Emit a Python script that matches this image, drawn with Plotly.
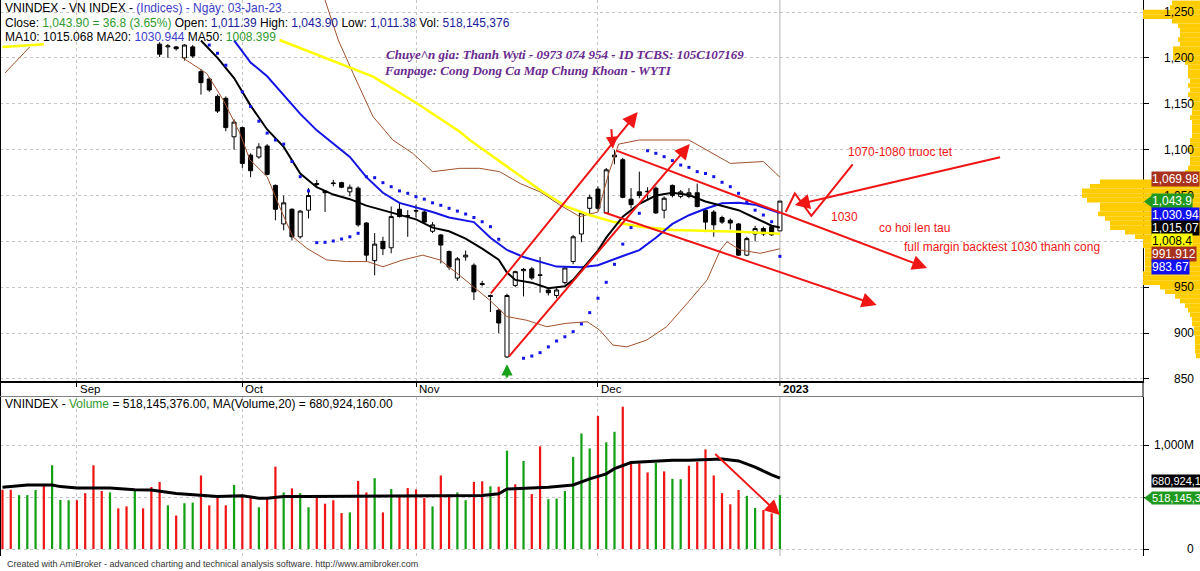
import plotly.graph_objects as go

W, H = 1200, 571
def X(px): return px / W
def Y(py): return 1 - py / H

# ---------------- data (bar index 0 = 2022-09-05, 85 = 2023-01-03) ----------------
month_ticks = [0, 20, 41, 63, 85]
month_labels = ["Sep", "Oct", "Nov", "Dec", "<b>2023</b>"]

bar_idx = list(range(10, 86))
opens = [1215, 1212, 1212, 1200, 1212, 1185, 1177, 1158, 1156, 1114,
         1124, 1094, 1092, 1104, 1061, 1019, 1035, 1005, 1034, 1062,
         1055, 1063, 1064, 1054, 1058, 1020, 979, 1000, 993, 1035,
         1028, 1033, 1032, 1011, 1007, 989, 960, 983, 974, 954,
         941, 925, 874, 952, 968, 970, 963.5, 947, 941, 955,
         978, 1008, 1036, 1057, 1031, 1092, 1089, 1046, 1054, 1054,
         1058, 1034, 1061, 1049, 1049, 1053, 1034, 1032, 1026, 1023,
         1019, 985, 1008, 1014, 1016, 1011.39]
highs = [1217, 1215, 1213, 1215, 1214, 1188, 1179, 1160, 1158, 1133,
         1125, 1096, 1107, 1106, 1062, 1050, 1036, 1034, 1058, 1067,
         1056, 1067, 1065, 1062, 1060, 1021, 1009, 1005, 1038, 1042,
         1034, 1040, 1034, 1021, 1008, 990, 983, 990, 976, 957,
         942, 926, 943, 968, 971, 972, 983, 949, 949, 973,
         1007, 1033, 1051, 1060, 1080, 1099.5, 1091, 1058, 1076, 1059,
         1060, 1049, 1062, 1056, 1058, 1063, 1036, 1034, 1028, 1025,
         1020, 1005, 1017, 1016, 1017, 1043.90]
lows = [1201, 1200, 1208, 1197, 1200, 1160, 1163, 1140, 1120, 1100,
        1080, 1070, 1090, 1072, 1023, 1012, 1001, 1003, 1025, 1058,
        1032, 1060, 1058, 1049, 1016, 978, 963, 985, 987, 1026,
        1005, 1026, 1019, 1009, 976, 969, 957, 979, 936, 951,
        923, 900, 873, 950, 940, 958, 944, 941, 938, 953,
        975, 999, 1028, 1034, 1030, 1084, 1047, 1036, 1047, 1046,
        1030, 1025, 1048, 1047, 1047, 1037, 1010, 1005, 1019, 1013,
        984, 984, 1000, 1006, 1006, 1011.38]
closes = [1204, 1213, 1210, 1214, 1202, 1173, 1165, 1142, 1124, 1130,
          1085, 1077, 1103, 1073, 1035, 1042, 1005, 1033, 1050, 1063,
          1053, 1063.5, 1059, 1059, 1018, 985, 997, 992, 1027, 1027,
          1027.5, 1033.5, 1021, 1018, 996, 972, 981, 985, 945, 953,
          940, 911, 941, 967, 969.5, 960, 963, 944, 947, 971,
          1005, 1031, 1048, 1036, 1078, 1094, 1048, 1040, 1050, 1054.5,
          1031, 1047, 1050, 1054, 1053, 1038, 1021, 1018, 1021, 1020,
          985, 1003, 1014, 1008, 1007.09, 1043.90]

# moving averages / bands (bar index, value)
ma10_i = [15, 17, 19, 21, 23, 25, 27, 29, 31, 33, 35, 37, 39, 41, 43, 45, 47, 49, 51, 52,
          53, 55, 57, 59, 60, 61, 63, 64, 66, 68, 70, 72, 74, 76, 78, 80, 82, 84, 85]
ma10_v = [1219, 1200, 1178, 1148, 1122, 1103, 1074, 1059, 1051, 1046, 1039, 1034, 1029, 1024,
          1015, 1011, 1003, 992, 980, 966, 958, 955, 949, 951, 958, 969, 990, 1004, 1027,
          1041, 1050, 1053, 1050.5, 1043.5, 1039, 1034, 1025.5, 1017, 1015.07]
ma20_i = [19, 21, 23, 25, 27, 29, 31, 33, 35, 37, 39, 41, 43, 45, 48, 50, 52, 54, 56, 58,
          61, 63, 66, 68, 70, 72, 74, 76, 78, 80, 82, 84, 85]
ma20_v = [1219, 1195, 1180, 1160, 1139, 1121, 1107, 1092, 1070, 1053, 1042, 1037, 1032, 1026,
          1021, 1004, 990.6, 983, 978, 972.5, 971.7, 974, 984, 990.5, 1004, 1019, 1028.5,
          1035.5, 1041.5, 1042, 1040, 1034.5, 1030.94]
ma50_i = [-9, -4, None, 24.5, 31.8, 35.8, 41.1, 46.3, 47.5, 56, 59.2, 62, 64.8, 68.1, 72.1,
          76.2, 80.2, 85]
ma50_v = [1212, 1215, None, 1219.5, 1194, 1179.5, 1150.5, 1119.5, 1110.5, 1056, 1037.8,
          1028.7, 1021.4, 1016, 1012.4, 1011.6, 1010.5, 1008.4]
bbu_i = [30, 31.6, 33.4, 35.8, 38.2, 40.6, 43, 46.3, 48.7, 51.1, 53.6, 56, 58.4, 60.8, 63,
         64.3, 65.5, 68, 74, 79, 83, 85]
bbu_v = [1263, 1219.5, 1183, 1136, 1110.5, 1096, 1076, 1079.6, 1079.6, 1076, 1063, 1054,
         1039.6, 1027, 1032, 1074, 1106, 1110.5, 1110.5, 1085, 1087, 1069.98]
bbl_i = [-8.7, -5.7, None, 12.8, 15.7, 17.7, 19.7, 20.9, 23, 24.5, 26.1, 27.8, 30.2, 32.6,
         35.1, 37, 39.4, 41.8, 43.9, 46, 49.9, 52, 54.4, 56.8, 59.2, 61.7, 63.2, 64.8, 66.5,
         68.9, 71.3, 73.8, 76.2, 77.8, 78.6, 80.2, 82.6, 85]
bbl_v = [1183.5, 1212, None, 1200, 1183, 1154, 1118, 1089, 1070.5, 1037.8, 1005, 992.4,
         979.7, 978, 978, 972.4, 979.7, 985, 979.7, 965, 936, 918, 914, 907, 910.7, 912.4,
         903.4, 887, 885, 892.5, 907, 932.6, 958, 990.6, 999.6, 990.6, 987, 991.91]
sar_i = [16, 17, 18, 20, 21, 22, 23, 24, 25, 26, 27, 28,
         29, 30, 31, 32, 33, 34,
         35, 36, 37, 38, 39, 40, 41, 42, 43, 44, 45, 46, 47, 48, 49, 50, 51,
         54, 55, 56, 57, 58, 59, 60, 61, 62, 63, 64, 65, 66, 67, 68,
         69, 70, 71, 72, 73, 74, 75, 76, 77, 78, 79, 80, 81, 82, 83, 84, 85]
sar_v = [1214, 1205, 1192, 1163, 1147, 1131, 1118, 1110.5, 1106, 1087, 1070.5, 1055,
         998.6, 999, 1000.4, 1002.6, 1005, 1008.8,
         1070.5, 1069.4, 1064, 1059.6, 1055, 1052.4, 1048.7, 1046, 1042, 1039.3, 1036, 1033,
         1029.8, 1026, 1021.4, 1016, 1002.3,
         872.6, 875, 878.7, 885, 891.4, 896, 901.6, 910, 922.3, 938, 955.4, 975, 997, 1015,
         1030.6,
         1098.8, 1096, 1092.3, 1088, 1083.2, 1080.7, 1076, 1074, 1070.5, 1064.4, 1059.6,
         1052.4, 1043, 1034, 1028.7, 1021.4, 983.67]

# volume (millions), bar index -9 .. 85
vol_idx = list(range(-9, 86))
vol_m = [570, 570, 518, 518, 567, 616, 805, 472, 469, 469,
         537, 805, 557, 544, 391, 410, 577, 391, 596, 645,
         420, 322, 440, 446, 707, 420, 495, 420, 616, 511,
         511, 401, 495, 792, 544, 583, 537, 401, 502, 436,
         469, 345, 352, 655, 544, 681, 352, 577, 518, 586,
         573, 489, 410, 707, 521, 544, 469, 645, 651, 603,
         599, 945, 622, 847, 528, 987, 479, 485, 557, 886,
         1111, 967, 1280, 1026, 1127, 1368, 847, 824, 736, 827,
         746, 674, 671, 801, 837, 958, 707, 537, 430, 567,
         511, 394, 375, 342, 518.145]
vol_dir = ["R", "R", "G", "G", "G", "R", "G", "G", "G", "R",
           "R", "R", "R", "G", "R", "R", "G", "R", "R", "R",
           "G", "R", "G", "G", "R", "R", "R", "R", "G", "R",
           "R", "G", "R", "R", "G", "R", "G", "G", "R", "R",
           "R", "R", "G", "R", "R", "G", "R", "G", "R", "R",
           "R", "R", "G", "R", "R", "G", "G", "R", "R", "G",
           "R", "G", "R", "G", "R", "R", "G", "G", "G", "G",
           "G", "G", "R", "G", "G", "R", "R", "R", "R", "G",
           "R", "G", "G", "R", "R", "R", "R", "R", "R", "R",
           "G", "G", "R", "R", "G"]
vma_i = [-9, -6, -3, -2, 0, 4, 7, 9, 12, 15, 17, 20, 22, 23, 25, 28, 31, 37, 43, 49, 51, 52,
         54, 57, 60, 62, 64, 65, 67, 70, 72, 74, 76, 78, 80, 82, 84, 85]
vma_m = [593, 616, 616, 600, 586, 586, 570, 567, 534, 518, 505, 511, 489, 489, 505, 505, 505,
         511, 511, 515, 531, 577, 583, 593, 616, 674, 723, 772, 831, 844, 853, 853, 863, 866,
         847, 788, 713, 680.924]

# volume-at-price profile (price bin centre, bar length in screen px from the right edge)
prof_price = [1260, 1255, 1250, 1245, 1240, 1235, 1230, 1225, 1220, 1215, 1210, 1205, 1200,
              1195, 1190, 1185, 1180, 1175, 1170, 1165, 1160, 1155, 1150, 1145, 1140, 1135,
              1130, 1125, 1120, 1115, 1110, 1105, 1100, 1095, 1090, 1085, 1080, 1075, 1070,
              1065, 1060, 1055, 1050, 1045, 1040, 1035, 1030, 1025, 1020, 1015, 1010, 1005,
              1000, 995, 990, 985, 980, 975, 970, 965, 960, 955, 950, 945, 940, 935, 930, 925,
              920, 915, 910, 905, 900, 895, 890, 885, 880, 875]
prof_len = [28, 30, 57, 57, 28, 22, 20, 20, 22, 20, 27, 27, 27,
            15, 12, 12, 12, 10, 12, 10, 12, 10, 8, 8, 8, 10,
            8, 8, 8, 8, 10, 10, 12, 10, 10, 10, 12, 15, 20,
            100, 110, 118, 118, 113, 100, 100, 102, 95, 90, 90, 75, 65,
            57, 57, 55, 55, 55, 55, 55, 57, 57, 57, 40, 35, 25, 20, 15, 12,
            10, 8, 8, 6, 6, 5, 5, 5, 5, 4]

price_ticks = [850, 900, 950, 1000, 1050, 1100, 1150, 1200, 1250]
price_tick_text = ["850", "900", "950", "", "1,050", "1,100", "1,150", "1,200", "1,250"]

# ---------------- figure ----------------
RED = "#f01515"
fig = go.Figure()

fig.add_trace(go.Bar(x=prof_len, y=prof_price, orientation="h", xaxis="x3", yaxis="y3",
                     marker=dict(color="#ffcc00", line=dict(width=0)), width=5, hoverinfo="skip"))

fig.add_trace(go.Scatter(x=bbu_i, y=bbu_v, mode="lines", line=dict(color="#a0522d", width=1)))
fig.add_trace(go.Scatter(x=bbl_i, y=bbl_v, mode="lines", line=dict(color="#a0522d", width=1)))
fig.add_trace(go.Scatter(x=ma50_i, y=ma50_v, mode="lines", line=dict(color="#ffff00", width=2.5)))
fig.add_trace(go.Scatter(x=ma20_i, y=ma20_v, mode="lines", line=dict(color="#1414e6", width=2)))
fig.add_trace(go.Scatter(x=ma10_i, y=ma10_v, mode="lines", line=dict(color="#000000", width=2)))
fig.add_trace(go.Scatter(x=sar_i, y=sar_v, mode="markers",
                         marker=dict(symbol="square", size=3, color="#1414e6")))
fig.add_trace(go.Candlestick(x=bar_idx, open=opens, high=highs, low=lows, close=closes,
                             increasing=dict(line=dict(color="black", width=1), fillcolor="white"),
                             decreasing=dict(line=dict(color="black", width=1), fillcolor="black"),
                             whiskerwidth=0))

fig.add_trace(go.Bar(x=vol_idx, y=[v * 1e6 for v in vol_m], xaxis="x2", yaxis="y2", width=0.27,
                     marker=dict(color=["#13a013" if d == "G" else "#f01515" for d in vol_dir],
                                 line=dict(width=0))))
fig.add_trace(go.Scatter(x=vma_i, y=[v * 1e6 for v in vma_m], xaxis="x2", yaxis="y2",
                         mode="lines", line=dict(color="black", width=3)))

xr = [-9.3, 128.9]
grid = dict(showgrid=True, gridcolor="#c4c4c4", griddash="dot", gridwidth=1)
fig.update_layout(
    width=W, height=H, margin=dict(l=0, r=0, t=0, b=0),
    paper_bgcolor="white", plot_bgcolor="rgba(0,0,0,0)",
    showlegend=False, boxgap=0.3,
    xaxis=dict(domain=[0, X(1143)], range=xr, anchor="y", tickvals=month_ticks[:-1],
               showticklabels=False, ticks="outside", ticklen=4, tickcolor="black",
               showline=True, linecolor="black", linewidth=2, zeroline=False,
               rangeslider=dict(visible=False), **grid),
    yaxis=dict(domain=[Y(381), 1], range=[847.8, 1263.1], side="right", anchor="x",
               tickvals=price_ticks, showticklabels=False, ticks="outside", ticklen=5,
               tickcolor="black", showline=True, linecolor="black", linewidth=1,
               zeroline=False, **grid),
    xaxis2=dict(domain=[0, X(1143)], range=xr, anchor="y2", tickvals=month_ticks[:-1],
                showticklabels=False, ticks="", showline=False, zeroline=False, **grid),
    yaxis2=dict(domain=[Y(556), Y(397)], range=[-0.0673e9, 1.4615e9], side="right",
                anchor="x2", tickvals=[0, 5e8, 1e9], showticklabels=False, ticks="outside",
                ticklen=5, tickcolor="black", showline=True, linecolor="black", linewidth=1,
                zeroline=False, **grid),
    xaxis3=dict(domain=[0, 1], range=[W, 0], anchor="y3", visible=False),
    yaxis3=dict(domain=[Y(381), 1], range=[847.8, 1263.1], anchor="x3", visible=False),
)

shapes = []
for yr in ("y domain", "y2 domain"):
    shapes.append(dict(type="line", xref="x", yref=yr, x0=month_ticks[-1], x1=month_ticks[-1],
                       y0=0, y1=1, line=dict(color="#b4b4b4", width=1), layer="below"))
shapes.append(dict(type="line", xref="x", yref="paper", x0=month_ticks[-1], x1=month_ticks[-1],
                   y0=Y(381), y1=Y(386), line=dict(color="black", width=1)))
shapes.append(dict(type="line", xref="paper", yref="paper", x0=X(0.5), x1=X(0.5), y0=Y(0), y1=Y(556),
                   line=dict(color="black", width=1)))
shapes.append(dict(type="line", xref="paper", yref="paper", x0=0, x1=X(1143), y0=Y(396.5), y1=Y(396.5),
                   line=dict(color="#808080", width=1)))
shapes.append(dict(type="line", xref="paper", yref="paper", x0=X(1143), x1=X(1143), y0=Y(381), y1=Y(397),
                   line=dict(color="black", width=1)))
shapes.append(dict(type="path", xref="x", yref="y",
                   path="M85.7,1032 L86.8,1052.2 L88.8,1027.7 L93.8,1084",
                   line=dict(color=RED, width=2)))

ann = []
def arrow(x, y, ax, ay, xref="x", yref="y", color=RED, width=2, size=1.5):
    ann.append(dict(x=x, y=y, ax=ax, ay=ay, xref=xref, yref=yref, axref=xref, ayref=yref,
                    text="", showarrow=True, arrowhead=2, arrowsize=size, arrowwidth=width,
                    arrowcolor=color))

arrow(74.1, 1106, 52.1, 872.9)
arrow(67.8, 1141, 49.9, 941.6)
arrow(64.8, 1101, 64.6, 1124, size=1.2)
arrow(102.8, 971, 65.05, 1099.6)
arrow(96.7, 930.7, 63.6, 1032)
arrow(86.8, 1039.6, 111.8, 1092)
arrow(85, 327e6, 77.0, 926e6, xref="x2", yref="y2")
arrow(52, 866, 52, 850, color="#18a018", width=2.5, size=0.9)

def txt(x, y, s, size=12, color="black", anchor="left", family="Arial", **kw):
    d = dict(x=X(x), y=Y(y), xref="paper", yref="paper", text=s, showarrow=False,
             xanchor=anchor, yanchor="middle", font=dict(size=size, color=color, family=family))
    d.update(kw)
    ann.append(d)

BL = "#3c3cc8"
NB = "#1a1a9a"
GR = "#2f9a2f"
txt(3, 8, "VNINDEX - VN INDEX - <span style='color:%s'>(Indices) - Ngày: 03-Jan-23</span>" % BL)
txt(3, 23, "Close: <span style='color:%s'>1,043.90 = 36.8 (3.65%%)</span> Open: "
           "<span style='color:%s'>1,011.39</span> High: <span style='color:%s'>1,043.90</span> "
           "Low: <span style='color:%s'>1,011.38</span> Vol: <span style='color:%s'>518,145,376</span>"
    % (GR, NB, NB, NB, NB))
txt(3, 37, "MA10: 1015.068 MA20: <span style='color:%s'>1030.944</span> MA50: "
           "<span style='color:%s'>1008.399</span>" % (BL, GR))

PUR = "#6a2a90"
txt(384, 55, "<b><i>Chuye^n gia: Thanh Wyti - 0973 074 954 - ID TCBS: 105C107169</i></b>",
    size=13, color=PUR, family="Liberation Serif")
txt(382, 71, "<b><i>Fanpage: Cong Dong Ca Map Chung Khoan - WYTI</i></b>",
    size=13, color=PUR, family="Liberation Serif")

txt(846, 152, "1070-1080 truoc tet", size=12, color=RED)
txt(829, 217, "1030", size=12, color=RED)
txt(877, 228, "co hoi len tau", size=12, color=RED)
txt(902, 247, "full margin backtest 1030 thanh cong", size=12, color=RED)

txt(3, 404, "VNINDEX - <span style='color:%s'>Volume</span> = 518,145,376.00, "
            "MA(Volume,20) = 680,924,160.00" % GR)
txt(5, 564, "Created with AmiBroker - advanced charting and technical analysis software. "
            "http://www.amibroker.com", size=9, color="#333333")

for t, s in zip(month_ticks, month_labels):
    ann.append(dict(x=t, y=Y(389), xref="x", yref="paper", text=s, showarrow=False,
                    xanchor="left", yanchor="middle", xshift=1,
                    font=dict(size=11.5, color="black", family="Arial")))
for v, s in zip(price_ticks, price_tick_text):
    if s:
        ann.append(dict(x=X(1196), y=v, xref="paper", yref="y", text=s, showarrow=False,
                        xanchor="right", yanchor="middle",
                        font=dict(size=12, color="black", family="Arial")))
for v, s in [(1e9, "1,000M"), (0, "0")]:
    ann.append(dict(x=X(1196), y=v, xref="paper", yref="y2", text=s, showarrow=False,
                    xanchor="right", yanchor="middle", font=dict(size=12, color="black", family="Arial")))

boxes = [(179, "1,069.98", "#a8321e", "white", 12), (201.5, "1,043.9", "#1f9a1f", "white", 12),
         (215, "1,030.94", "#1010f0", "white", 12), (228.5, "1,015.07", "#000000", "white", 12),
         (241, "1,008.4", "#ffff00", "black", 12), (254, "991.912", "#a8321e", "white", 12),
         (267.5, "983.67", "#1010f0", "white", 12), (480.5, "680,924,1", "#000000", "white", 11),
         (498, "518,145,3", "#1f9a1f", "white", 11)]
for yy, s, bg, fc, fs in boxes:
    ann.append(dict(x=X(1151), y=Y(yy), xref="paper", yref="paper", text=s, showarrow=False,
                    xanchor="left", yanchor="middle", bgcolor=bg, borderpad=0,
                    font=dict(size=fs, color=fc, family="Arial")))
for yy in (201.5, 498):
    shapes.append(dict(type="path", xref="paper", yref="paper",
                       path="M %f,%f L %f,%f L %f,%f Z" % (X(1144), Y(yy), X(1152), Y(yy - 6),
                                                         X(1152), Y(yy + 6)),
                       fillcolor="#1f9a1f", line=dict(width=0)))
fig.update_layout(annotations=ann, shapes=shapes)

fig.write_html("out.html")
